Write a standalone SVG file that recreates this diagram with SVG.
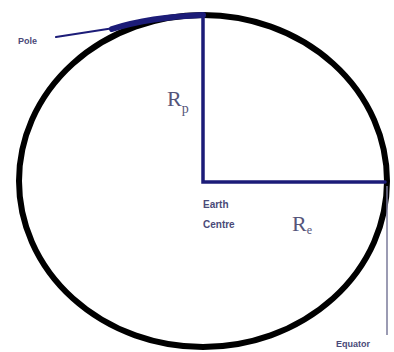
<svg xmlns="http://www.w3.org/2000/svg" width="394" height="352" viewBox="0 0 394 352">
<style>
.lbl{font-family:"Liberation Sans Narrow","Liberation Sans",Arial,sans-serif;fill:#4a4a78;font-weight:bold}
.r{font-family:"Liberation Serif","Times New Roman",serif;fill:#55557a}
.blue{stroke:#1c1c78;fill:none;stroke-linecap:round}
</style>
<rect width="394" height="352" fill="#ffffff"/>
<g id="earth">
<ellipse cx="203" cy="181" rx="184" ry="166" fill="none" stroke="#000" stroke-width="6"/>
</g>
<g id="connectors">
<path class="blue" d="M112,29 Q150,17 203,15" stroke-width="6"/>
<line class="blue" x1="56" y1="37" x2="114" y2="28" stroke-width="2"/>
<polyline class="blue" points="203,15 203,182 385,182" stroke-width="3.5" stroke-linecap="butt"/>
<line x1="387" y1="186" x2="387" y2="335" stroke="#7a7a9a" stroke-width="1.5"/>
</g>
<g id="pole"><text class="lbl" x="18" y="44" font-size="9">Pole</text></g>
<g id="rp"><text class="r" x="167" y="106" font-size="22">R<tspan font-size="14" dy="7">p</tspan></text></g>
<g id="centre"><text class="lbl" x="203" y="208" font-size="10">Earth</text><text class="lbl" x="203" y="228" font-size="10">Centre</text></g>
<g id="re"><text class="r" x="292" y="231" font-size="22">R<tspan font-size="12" dy="3">e</tspan></text></g>
<g id="equator"><text class="lbl" x="336" y="347" font-size="9">Equator</text></g>
</svg>
